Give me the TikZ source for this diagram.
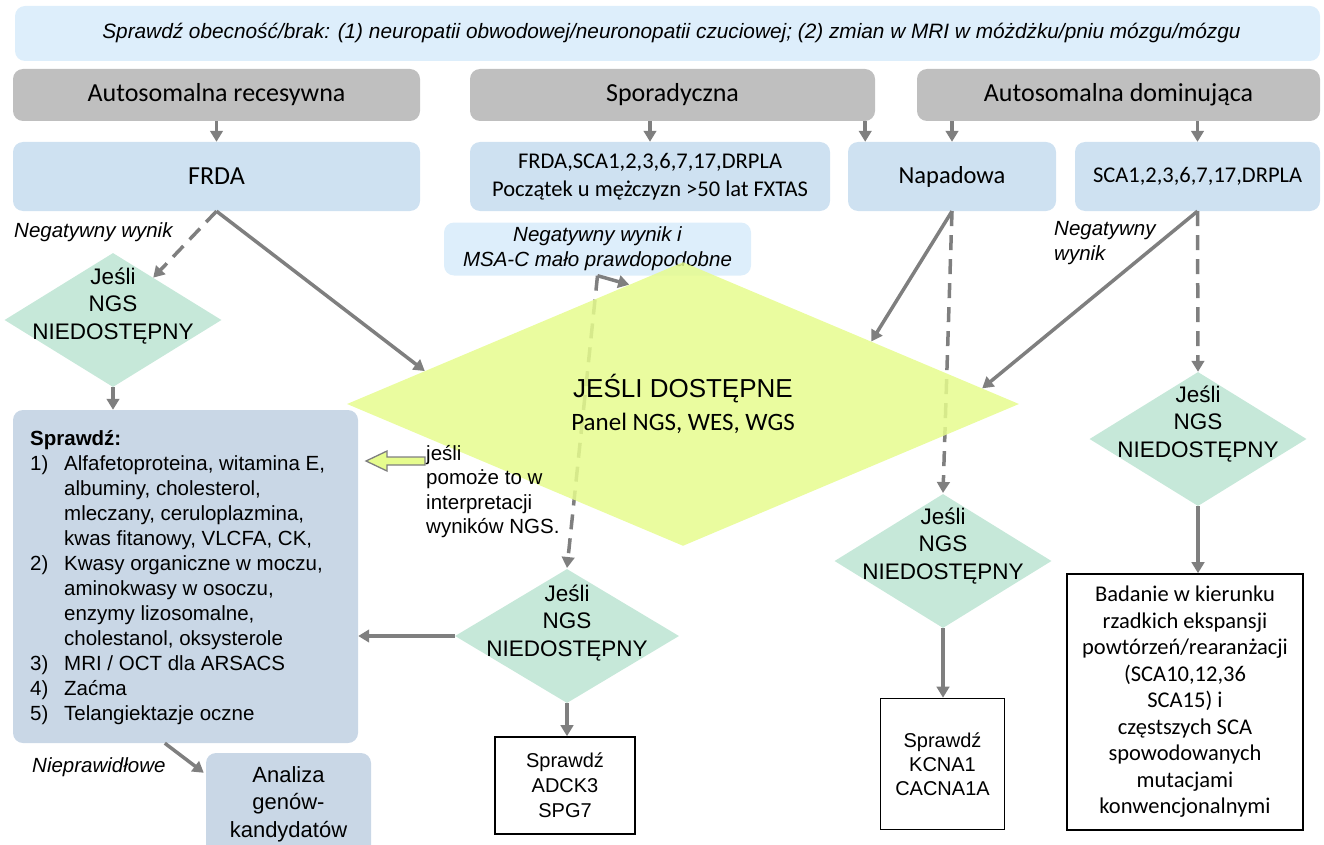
\documentclass[tikz,border=0pt]{standalone}
\usepackage{fontspec}
\setmainfont{Liberation Sans}
\newfontfamily\calfont{Carlito}
\usetikzlibrary{shapes.geometric,arrows.meta,calc}
\definecolor{bannerblue}{HTML}{DDEEFB}
\definecolor{headgrey}{HTML}{BFBFBF}
\definecolor{boxblue}{HTML}{CEE1F1}
\definecolor{chkblue}{HTML}{C9D7E6}
\definecolor{mint}{HTML}{C6E8D9}
\definecolor{lime}{HTML}{E6FC8E}
\definecolor{arrowgrey}{HTML}{7F7F7F}
\tikzset{
  banner/.style={fill=bannerblue, rounded corners=10pt, inner sep=0pt},
  header/.style={fill=headgrey, rounded corners=10pt, inner sep=0pt, font=\calfont\fontsize{26}{31}\selectfont},
  bluebox/.style={fill=boxblue, rounded corners=10pt, inner sep=0pt, align=center},
  chkbox/.style={fill=chkblue, rounded corners=10pt, inner sep=0pt},
  mintdiam/.style={diamond, fill=mint, inner sep=0pt, minimum width=217pt, minimum height=134pt},
  dtext/.style={align=center, inner sep=0pt, font=\fontsize{22.5}{27.5}\selectfont},
  whitebox/.style={draw=black, line width=1.6pt, fill=white, inner sep=0pt, align=center},
  itnote/.style={inner sep=0pt, font=\itshape\fontsize{20.5}{25}\selectfont},
  arr/.style={draw=arrowgrey, line width=3.5pt, -{Triangle[length=11pt,width=12.5pt]}},
  dasharr/.style={arr, dash pattern=on 15pt off 9pt},
}
\begin{document}
\begin{tikzpicture}[x=1pt,y=-1pt]
\useasboundingbox (0,0) rectangle (1324,845);
\begin{scope}
\clip (0,0) rectangle (1324,845);
% top banner
\node[banner, minimum width=1305pt, minimum height=55pt] (top) at (667.5,33.5)
  {\itshape\fontsize{20.8}{25}\selectfont\hspace*{8pt}Sprawdź obecność/brak: (1) neuropatii obwodowej/neuronopatii czuciowej; (2) zmian w MRI w móżdżku/pniu mózgu/mózgu};
% headers
\node[header, minimum width=407pt, minimum height=52pt] (arec) at (216.5,95) {Autosomalna recesywna};
\node[header, minimum width=405pt, minimum height=52pt] (spor) at (672.5,95) {Sporadyczna};
\node[header, minimum width=403pt, minimum height=52pt] (adom) at (1118.5,95) {Autosomalna dominująca};
% blue boxes
\node[bluebox, minimum width=407pt, minimum height=69pt, font=\calfont\fontsize{26}{31}\selectfont] (frda) at (216.5,176.5) {FRDA};
\node[bluebox, minimum width=360pt, minimum height=69pt, font=\calfont\fontsize{22.5}{27.5}\selectfont] (fsca) at (650,176.5) {FRDA,SCA1,2,3,6,7,17,DRPLA\\Początek u mężczyzn >50 lat FXTAS};
\node[bluebox, minimum width=208pt, minimum height=69pt, font=\calfont\fontsize{24.5}{29}\selectfont] (napa) at (952,176.5) {Napadowa};
\node[bluebox, minimum width=245pt, minimum height=69pt, font=\calfont\fontsize{22.5}{27}\selectfont] (sca) at (1197.5,176.5) {SCA1,2,3,6,7,17,DRPLA};
% notes
\node[itnote, anchor=west] (neg1) at (14,232) {Negatywny wynik};
\node[itnote, anchor=west, align=left] (neg2) at (1054,243) {Negatywny\\wynik};
\node[banner, minimum width=307pt, minimum height=53pt, align=center, font=\itshape\fontsize{20.5}{25}\selectfont] (msa) at (597.5,249) {Negatywny wynik i\\MSA-C mało prawdopodobne};
% dashed arrows under big diamond
\draw[dasharr] (msa.south) -- (567,568) coordinate (d2top);
\draw[dasharr] (napa.south) -- (943,493) coordinate (d3top);
% big diamond
\node[diamond, fill=lime, fill opacity=0.85, text opacity=1, inner sep=0pt, minimum width=672pt, minimum height=230pt, align=center] (big) at (683,404)
  {\fontsize{26}{30}\selectfont JEŚLI DOSTĘPNE\\[10pt]\calfont\fontsize{25}{30}\selectfont Panel NGS, WES, WGS};
% small diamonds
\node[mintdiam] (d1) at (113,320) {};
\node[dtext] (d1t) at (113,306) {Jeśli\\NGS\\NIEDOSTĘPNY};
\node[mintdiam, minimum width=224pt] (d2) at (567,636) {};
\node[dtext] (d2t) at (567,623) {Jeśli\\NGS\\NIEDOSTĘPNY};
\node[mintdiam] (d3) at (943,561) {};
\node[dtext] (d3t) at (943,546) {Jeśli\\NGS\\NIEDOSTĘPNY};
\node[mintdiam] (d4) at (1198,439) {};
\node[dtext] (d4t) at (1198,424) {Jeśli\\NGS\\NIEDOSTĘPNY};
% check box
\node[chkbox, minimum width=345pt, minimum height=333pt] (chk) at (185.5,576.5) {};
\node[anchor=north west, align=left, inner sep=0pt, font=\fontsize{20.5}{25}\selectfont] (chkt) at (30,430)
{\textbf{Sprawdź:}\\
\makebox[34pt][l]{1)}Alfafetoproteina, witamina E,\\
\hspace*{34pt}albuminy, cholesterol,\\
\hspace*{34pt}mleczany, ceruloplazmina,\\
\hspace*{34pt}kwas fitanowy, VLCFA, CK,\\
\makebox[34pt][l]{2)}Kwasy organiczne w moczu,\\
\hspace*{34pt}aminokwasy w osoczu,\\
\hspace*{34pt}enzymy lizosomalne,\\
\hspace*{34pt}cholestanol, oksysterole\\
\makebox[34pt][l]{3)}MRI / OCT dla ARSACS\\
\makebox[34pt][l]{4)}Zaćma\\
\makebox[34pt][l]{5)}Telangiektazje oczne};
% analiza
\node[chkbox, minimum width=165pt, minimum height=102pt, align=center, font=\fontsize{22}{27.5}\selectfont] (anal) at (288.5,804) {Analiza\\genów-\\kandydatów};
\node[itnote, anchor=west] (niep) at (32,767) {Nieprawidłowe};
% jeśli text and hollow arrow
\node[anchor=north west, align=left, inner sep=0pt, font=\fontsize{20.5}{24.5}\selectfont] (jesli) at (426,445) {jeśli\\pomoże to w\\interpretacji\\wyników NGS.};
\draw[draw=arrowgrey, line width=1.3pt, fill=lime] (425,457) -- (387,457) -- (387,451) -- (366,461) -- (387,471) -- (387,465) -- (425,465) -- cycle;
% white boxes
\node[whitebox, minimum width=140pt, minimum height=97pt, font=\fontsize{20}{25}\selectfont] (adck) at (565,785.5) {Sprawdź\\ADCK3\\SPG7};
\node[whitebox, minimum width=124pt, minimum height=131pt, font=\fontsize{20}{24}\selectfont] (kcna) at (942.5,764) {Sprawdź\\KCNA1\\CACNA1A};
\node[whitebox, minimum width=236pt, minimum height=256pt, font=\calfont\fontsize{22.5}{26.5}\selectfont] (bad) at (1185,702)
 {Badanie w kierunku\\rzadkich ekspansji\\powtórzeń/rearanżacji\\(SCA10,12,36\\SCA15) i\\częstszych SCA\\spowodowanych\\mutacjami\\konwencjonalnymi};
% short header arrows
\draw[arr] (arec.south) -- (frda.north);
\draw[arr] (spor.south -| fsca.north) -- (fsca.north);
\draw[arr] ([xshift=-10pt]spor.south east) -- ([xshift=-10pt]spor.south east |- napa.north);
\draw[arr] (adom.south -| napa.north) -- (napa.north);
\draw[arr] (adom.south -| sca.north) -- (sca.north);
% other arrows
\draw[dasharr] (frda.south) -- ($(d1.north)!0.37!(d1.east)$);
\draw[arr] (frda.south) -- ($(big.west)!0.232!(big.north)$);
\draw[arr] (msa.south) -- ($(big.west)!0.84!(big.north)$);
\draw[arr] (napa.south) -- ($(big.north)!0.56!(big.east)$);
\draw[arr] (sca.south) -- ($(big.north)!0.89!(big.east)$);
\draw[dasharr] (sca.south) -- (d4.north);
\draw[arr] (d1.south) -- (d1.south |- chk.north);
\draw[arr] (d2.west) -- (d2.west -| chk.east);
\draw[arr] (d2.south) -- (d2.south |- adck.north);
\draw[arr] (d3.south) -- (d3.south |- kcna.north);
\draw[arr] (d4.south) -- (d4.south |- bad.north);
\draw[arr] ([xshift=152pt]chk.south west) -- ($(anal.north west)+(-2,20)$);
\end{scope}
\end{tikzpicture}
\end{document}
